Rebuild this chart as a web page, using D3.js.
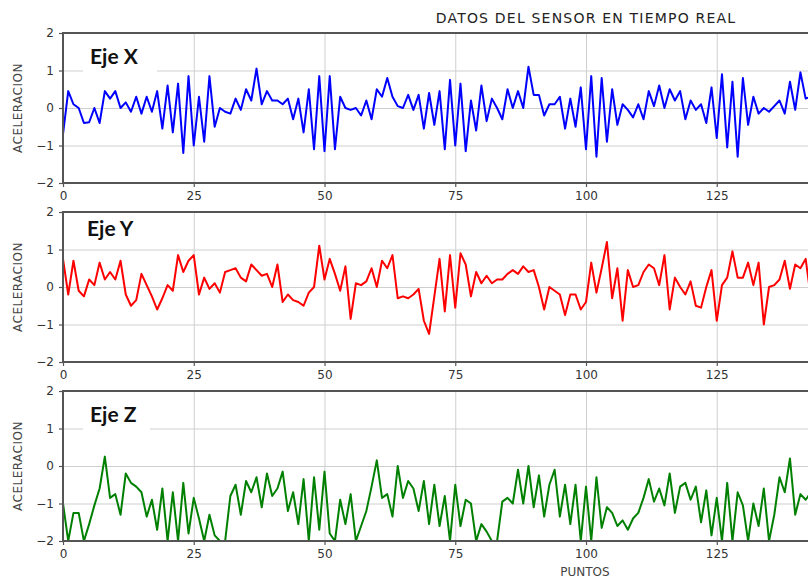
<!DOCTYPE html>
<html>
<head>
<meta charset="utf-8">
<script src="https://cdn.jsdelivr.net/npm/d3@7"></script>
<style>
  body { margin: 0; background: #fff; }
  svg { display: block; }
</style>
</head>
<body>
<div id="viz"></div>
<script>
// values, one per point
const seriesX = [-0.7,0.45,0.1,0.0,-0.4,-0.38,0.0,-0.4,0.45,0.25,0.45,0.0,0.15,-0.1,0.3,-0.15,0.3,-0.1,0.45,-0.55,
  0.6,-0.65,0.65,-1.2,0.85,-1.0,0.3,-0.9,0.85,-0.5,0.0,-0.1,-0.15,0.25,-0.05,0.5,0.2,1.05,0.1,0.45,
  0.2,0.2,0.1,0.25,-0.3,0.25,-0.65,0.5,-1.1,0.85,-1.15,0.85,-1.1,0.3,0.0,-0.05,0.0,-0.2,0.2,-0.3,
  0.5,0.3,0.8,0.3,0.05,0.0,0.35,-0.05,0.35,-0.55,0.4,-0.45,0.45,-1.1,0.75,-1.0,0.65,-1.15,0.2,-0.6,
  0.6,-0.35,0.25,0.0,-0.3,0.5,0.0,0.45,0.0,1.1,0.35,0.35,-0.2,0.1,0.1,0.3,-0.55,0.25,-0.5,0.55,
  -1.1,0.85,-1.3,0.8,-0.9,0.5,-0.45,0.1,-0.05,-0.25,0.1,-0.3,0.45,0.05,0.6,0.0,0.5,0.2,0.45,-0.3,
  0.2,-0.05,0.1,-0.4,0.55,-0.8,0.9,-1.05,0.7,-1.3,0.8,-0.45,0.3,-0.15,0.0,-0.1,0.05,0.2,-0.15,0.7,
  -0.05,0.95,0.25,0.3];
const seriesY = [0.75,-0.2,0.7,-0.1,-0.25,0.2,0.05,0.65,0.2,0.4,0.2,0.7,-0.2,-0.5,-0.35,0.35,0.05,-0.25,-0.6,-0.3,
  0.05,-0.1,0.85,0.4,0.7,0.85,-0.2,0.25,-0.05,0.1,-0.15,0.4,0.45,0.5,0.25,0.15,0.6,0.45,0.3,0.35,
  0.0,0.6,-0.4,-0.2,-0.35,-0.4,-0.5,-0.15,0.0,1.1,0.2,0.75,0.35,-0.1,0.55,-0.85,0.1,0.05,0.15,0.5,
  0.0,0.7,0.5,0.85,-0.3,-0.25,-0.3,-0.2,-0.05,-0.9,-1.25,-0.25,0.75,-0.65,0.85,-0.55,0.9,0.6,-0.25,0.4,
  0.1,0.3,0.1,0.2,0.2,0.35,0.45,0.35,0.55,0.4,0.45,0.0,-0.6,0.0,-0.1,-0.2,-0.75,-0.2,-0.2,-0.6,
  -0.4,0.65,-0.15,0.5,1.2,-0.3,0.5,-0.9,0.45,0.0,0.05,0.4,0.6,0.5,0.05,0.85,-0.6,0.25,0.0,-0.2,
  0.15,-0.5,-0.55,0.0,0.45,-0.9,0.05,0.25,0.95,0.25,0.25,0.65,0.05,0.65,-1.0,0.0,0.05,0.2,0.7,-0.05,
  0.6,0.5,0.75,-0.3];
const seriesZ = [-1.0,-2.0,-1.25,-1.25,-2.0,-1.55,-1.05,-0.6,0.25,-0.85,-0.75,-1.3,-0.2,-0.45,-0.55,-0.7,-1.35,-0.9,-1.7,-0.6,
  -2.0,-0.7,-2.0,-0.45,-1.8,-0.85,-1.4,-2.0,-1.3,-1.85,-2.0,-2.0,-0.8,-0.5,-1.3,-0.4,-0.7,-0.3,-1.1,-0.2,
  -0.8,-0.6,-0.15,-1.2,-0.7,-1.55,-0.35,-2.0,-0.3,-1.7,-0.15,-1.8,-2.0,-0.9,-1.55,-0.75,-2.0,-1.6,-1.2,-0.55,
  0.15,-0.85,-0.75,-1.35,0.0,-0.85,-0.4,-0.6,-1.2,-0.4,-1.55,-0.5,-1.6,-0.8,-2.0,-0.5,-1.6,-0.9,-1.0,-2.0,
  -1.55,-1.75,-2.0,-2.0,-0.95,-0.85,-1.0,-0.1,-1.0,0.0,-1.1,-0.25,-1.35,-0.5,-0.1,-1.35,-0.5,-1.55,-0.5,-2.0,
  -0.55,-2.0,-0.3,-1.65,-1.1,-1.25,-1.6,-1.45,-1.7,-1.4,-1.25,-0.85,-0.35,-0.95,-0.6,-1.05,-0.2,-1.25,-0.55,-0.45,
  -0.9,-0.55,-1.5,-0.65,-1.85,-0.85,-2.0,-0.45,-2.0,-0.7,-1.05,-2.0,-1.0,-1.6,-0.6,-2.0,-1.3,-0.3,-0.7,0.2,
  -1.3,-0.75,-0.9,-0.7];

const panelNames = ['Eje X', 'Eje Y', 'Eje Z'];
const xTicks = [0, 25, 50, 75, 100, 125];
const yTicks = [-2, -1, 0, 1, 2];
const title = 'DATOS DEL SENSOR EN TIEMPO REAL';

const W = 808, H = 580;
const left = 63, plotW = 1046, plotH = 150;  // axes run past the right edge, as in the screenshot
const tops = [33, 212, 391];
const colors = ['#0000ff', '#ff0000', '#008000'];
const boxes = [[83, 40, 74, 34], [80, 216, 66, 30], [83, 400, 67, 32]];

const svg = d3.select('#viz').append('svg')
  .attr('width', W).attr('height', H);

const x = d3.scaleLinear().domain([0, 200]).range([left, left + plotW]);
const fmt = d3.format('d');

svg.append('text')
  .attr('x', 586).attr('y', 23)
  .attr('text-anchor', 'middle')
  .style('font-family', 'DejaVu Sans, sans-serif')
  .style('font-size', '14px')
  .style('letter-spacing', '1.2px')
  .style('fill', '#222')
  .text(title);

[seriesX, seriesY, seriesZ].forEach((vals, k) => {
  const top = tops[k];
  const y = d3.scaleLinear().domain([-2, 2]).range([top + plotH, top]);
  const g = svg.append('g');

  g.append('clipPath').attr('id', 'clip' + k)
    .append('rect').attr('x', left).attr('y', top).attr('width', plotW).attr('height', plotH);

  // grid
  g.append('g')
    .attr('transform', `translate(0,${top + plotH})`)
    .call(d3.axisBottom(x).tickValues(xTicks).tickSize(-plotH).tickFormat(''))
    .call(a => a.select('.domain').remove())
    .selectAll('line').attr('stroke', '#cfcfcf').attr('stroke-width', 1);
  g.append('g')
    .attr('transform', `translate(${left},0)`)
    .call(d3.axisLeft(y).tickValues(yTicks).tickSize(-plotW).tickFormat(''))
    .call(a => a.select('.domain').remove())
    .selectAll('line').attr('stroke', '#cfcfcf').attr('stroke-width', 1);

  // label box
  const b = boxes[k];
  g.append('rect').attr('x', b[0]).attr('y', b[1]).attr('width', b[2]).attr('height', b[3]).attr('fill', '#fff');
  g.append('text')
    .attr('x', b[0] + 7).attr('y', b[1] + b[3] - 10)
    .style('font-family', 'Lato, sans-serif')
    .style('font-weight', 'bold')
    .style('font-size', '21px')
    .style('fill', '#111')
    .text(panelNames[k]);

  // series
  const line = d3.line().x((d, i) => x(i)).y(d => y(d));
  g.append('path')
    .datum(vals)
    .attr('clip-path', `url(#clip${k})`)
    .attr('fill', 'none')
    .attr('stroke', colors[k])
    .attr('stroke-width', 2)
    .attr('stroke-linejoin', 'round')
    .attr('d', line);

  // frame
  g.append('rect').attr('x', left).attr('y', top).attr('width', plotW).attr('height', plotH)
    .attr('fill', 'none').attr('stroke', '#555').attr('stroke-width', 2);

  // axes
  const ax = g.append('g')
    .attr('transform', `translate(0,${top + plotH})`)
    .call(d3.axisBottom(x).tickValues(xTicks).tickSize(4).tickSizeOuter(0).tickPadding(4).tickFormat(fmt));
  const ay = g.append('g')
    .attr('transform', `translate(${left},0)`)
    .call(d3.axisLeft(y).tickValues(yTicks).tickSize(4).tickSizeOuter(0).tickPadding(5).tickFormat(fmt));
  [ax, ay].forEach(a => {
    a.select('.domain').remove();
    a.selectAll('line').attr('stroke', '#555').attr('stroke-width', 1.2);
    a.selectAll('text')
      .style('font-family', 'DejaVu Sans, sans-serif')
      .style('font-size', '12px')
      .style('fill', '#333');
  });

  svg.append('text')
    .attr('transform', `translate(22,${top + plotH / 2}) rotate(-90)`)
    .attr('text-anchor', 'middle')
    .style('font-family', 'DejaVu Sans, sans-serif')
    .style('font-size', '12px')
    .style('letter-spacing', '0.5px')
    .style('fill', '#444')
    .text('ACELERACION');
});

svg.append('text')
  .attr('x', 585).attr('y', 576)
  .attr('text-anchor', 'middle')
  .style('font-family', 'DejaVu Sans, sans-serif')
  .style('font-size', '12px')
  .style('fill', '#444')
  .text('PUNTOS');
</script>
</body>
</html>
